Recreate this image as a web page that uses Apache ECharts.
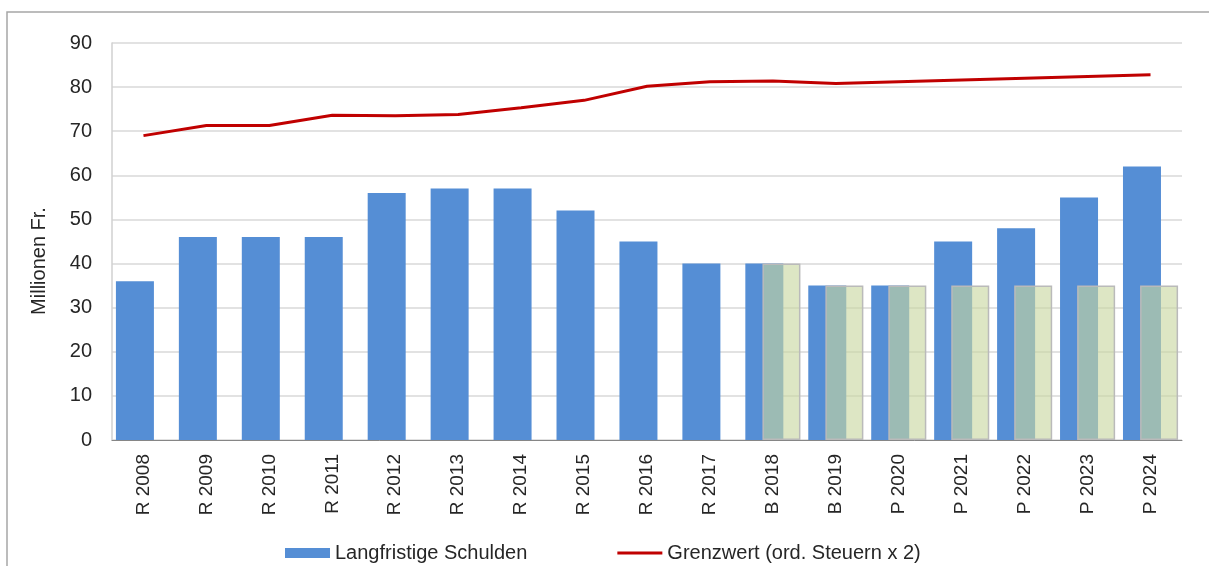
<!DOCTYPE html>
<html>
<head>
<meta charset="utf-8">
<script src="https://cdn.jsdelivr.net/npm/echarts@6/dist/echarts.min.js"></script>
<style>
  html, body { margin: 0; padding: 0; background: #fff; }
  #chart { width: 1209px; height: 566px; }
</style>
</head>
<body>
<div id="chart"></div>
<script>
const categories = ['R 2008', 'R 2009', 'R 2010', 'R 2011', 'R 2012', 'R 2013', 'R 2014', 'R 2015', 'R 2016',
  'R 2017', 'B 2018', 'B 2019', 'P 2020', 'P 2021', 'P 2022', 'P 2023', 'P 2024'];
const schulden = [36, 46, 46, 46, 56, 57, 57, 52, 45, 40, 40, 35, 35, 45, 48, 55, 62];
const overlay = [null, null, null, null, null, null, null, null, null, null, 40, 35, 35, 35, 35, 35, 35];
const grenzwert = [69, 71.3, 71.3, 73.6, 73.5, 73.8, 75.3, 77, 80.2, 81.2, 81.4, 80.8, 81.2, 81.6, 82, 82.4, 82.8];
const yTicks = { min: 0, max: 90, interval: 10 };

const font = "'Liberation Sans', Arial, sans-serif";
const chart = echarts.init(document.getElementById('chart'));

chart.setOption({
  animation: false,
  textStyle: { fontFamily: font },
  grid: { left: 112, right: 27, top: 43, bottom: 126 },
  graphic: [
    {
      type: 'rect',
      shape: { x: 7, y: 12, width: 1240, height: 600 },
      style: { fill: 'none', stroke: '#a6a6a6', lineWidth: 1.5 },
      silent: true
    },
    {
      type: 'text',
      x: 29, y: 261,
      rotation: Math.PI / 2,
      style: {
        text: 'Millionen Fr.',
        fill: '#262626',
        font: '20px ' + font,
        align: 'center',
        verticalAlign: 'top'
      }
    }
  ],
  legend: {
    left: 285,
    top: 543,
    padding: 0,
    itemWidth: 45,
    itemHeight: 10,
    itemGap: 90,
    textStyle: { fontSize: 20, color: '#262626', fontFamily: font },
    data: [
      { name: 'Langfristige Schulden', icon: 'rect' },
      { name: 'Grenzwert (ord. Steuern x 2)', icon: 'path://M0,0H45V3H0Z' }
    ]
  },
  xAxis: {
    type: 'category',
    data: categories,
    axisLine: { lineStyle: { color: '#868686', width: 1 } },
    axisTick: { show: false },
    axisLabel: { rotate: 90, margin: 14, fontSize: 19, color: '#262626', fontFamily: font }
  },
  yAxis: {
    type: 'value',
    min: yTicks.min,
    max: yTicks.max,
    interval: yTicks.interval,
    axisLine: { show: true, lineStyle: { color: '#d0d0d0', width: 1.5 } },
    axisTick: { show: false },
    axisLabel: { margin: 20, fontSize: 20, color: '#262626', fontFamily: font },
    splitLine: { lineStyle: { color: '#d9d9d9', width: 1.5 } }
  },
  series: [
    {
      name: 'Langfristige Schulden',
      type: 'bar',
      data: schulden,
      barWidth: 38,
      barGap: '-55%',
      itemStyle: { color: '#558ed5' },
      z: 2
    },
    {
      name: 'Reserve',
      type: 'bar',
      data: overlay,
      barWidth: 38,
      itemStyle: { color: 'rgba(200,215,160,0.62)', borderColor: '#bababa', borderWidth: 1.5 },
      z: 3
    },
    {
      name: 'Grenzwert (ord. Steuern x 2)',
      type: 'line',
      data: grenzwert,
      symbol: 'none',
      lineStyle: { color: '#c00000', width: 3 },
      itemStyle: { color: '#c00000' },
      z: 5
    }
  ]
});
</script>
</body>
</html>
